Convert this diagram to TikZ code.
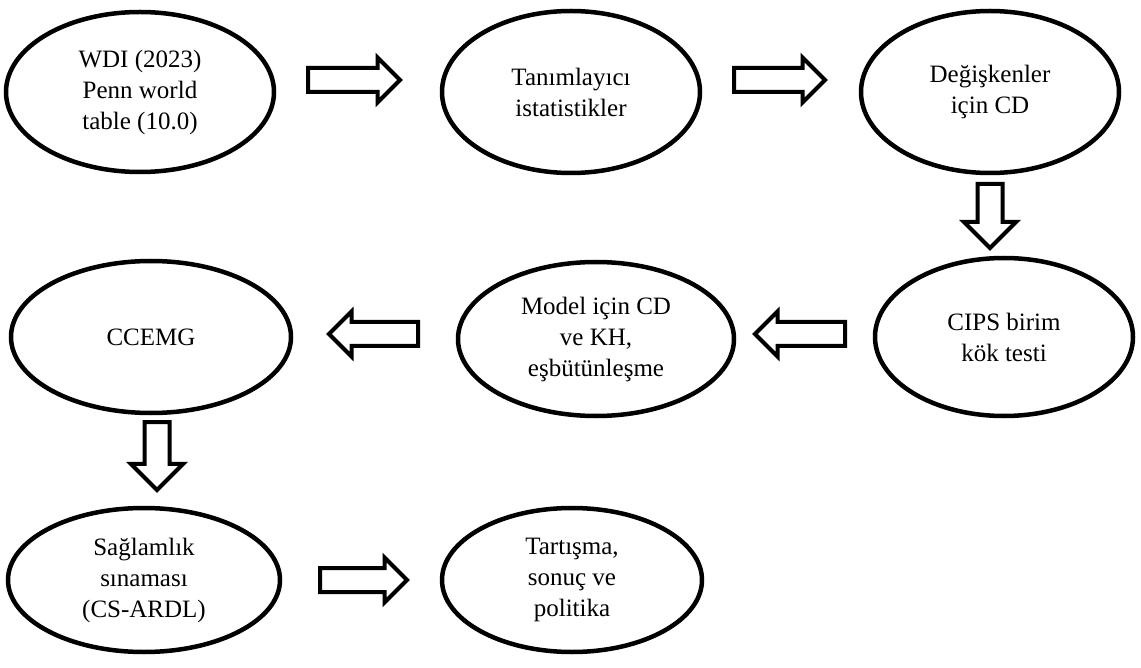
\documentclass[tikz,border=0pt]{standalone}
\usepackage{fontspec}
\setmainfont{Liberation Serif}
\usetikzlibrary{shapes.geometric,shapes.arrows}
\begin{document}
\begin{tikzpicture}[x=1pt,y=-1pt,
  oval/.style={ellipse, draw, line width=4.5pt, inner sep=0pt, outer sep=0pt, align=center,
    font=\fontsize{25}{31}\selectfont},
  harrow/.style={single arrow, draw, line width=4pt, inner xsep=0pt, inner ysep=10pt,
    outer sep=0pt, single arrow head extend=10.5pt, single arrow tip angle=90, anchor=tip},
  varrow/.style={single arrow, draw, line width=4pt, inner xsep=10.5pt, inner ysep=0pt,
    outer sep=0pt, single arrow head extend=13.5pt, single arrow tip angle=90, anchor=tip,
    shape border rotate=270},
]
\useasboundingbox (0,0) rectangle (1141,668);
\node[oval, minimum width=268pt, minimum height=160pt] (e1) at (140,92) {WDI (2023)\\Penn world\\table (10.0)};
\node[oval, minimum width=258pt, minimum height=162pt] (e2) at (571,92) {Tanımlayıcı\\istatistikler};
\node[oval, minimum width=258pt, minimum height=162pt] (e3) at (990,92) {Değişkenler\\için CD};
\node[oval, minimum width=258pt, minimum height=158pt] (e4) at (1004,337) {CIPS birim\\kök testi};
\node[oval, minimum width=276pt, minimum height=154pt] (e5) at (596,339) {Model için CD\\ve KH,\\eşbütünleşme};
\node[oval, minimum width=280pt, minimum height=152pt] (e6) at (151,337) {CCEMG};
\node[oval, minimum width=272pt, minimum height=144pt] (e7) at (144,580) {Sağlamlık\\sınaması\\(CS-ARDL)};
\node[oval, minimum width=260pt, minimum height=144pt] (e8) at (572,580) {Tartışma,\\sonuç ve\\politika};

\node[harrow, minimum height=92pt] (a1) at (400,80) {};
\node[harrow, minimum height=91pt] (a2) at (825,80) {};
\node[varrow, minimum height=64pt] (a3) at (990,248) {};
\node[harrow, shape border rotate=180, minimum height=90pt] (a4) at (755,334) {};
\node[harrow, shape border rotate=180, minimum height=89pt] (a5) at (329,334) {};
\node[varrow, minimum height=68pt] (a6) at (157,490) {};
\node[harrow, minimum height=87pt] (a7) at (407,580) {};
\end{tikzpicture}
\end{document}
